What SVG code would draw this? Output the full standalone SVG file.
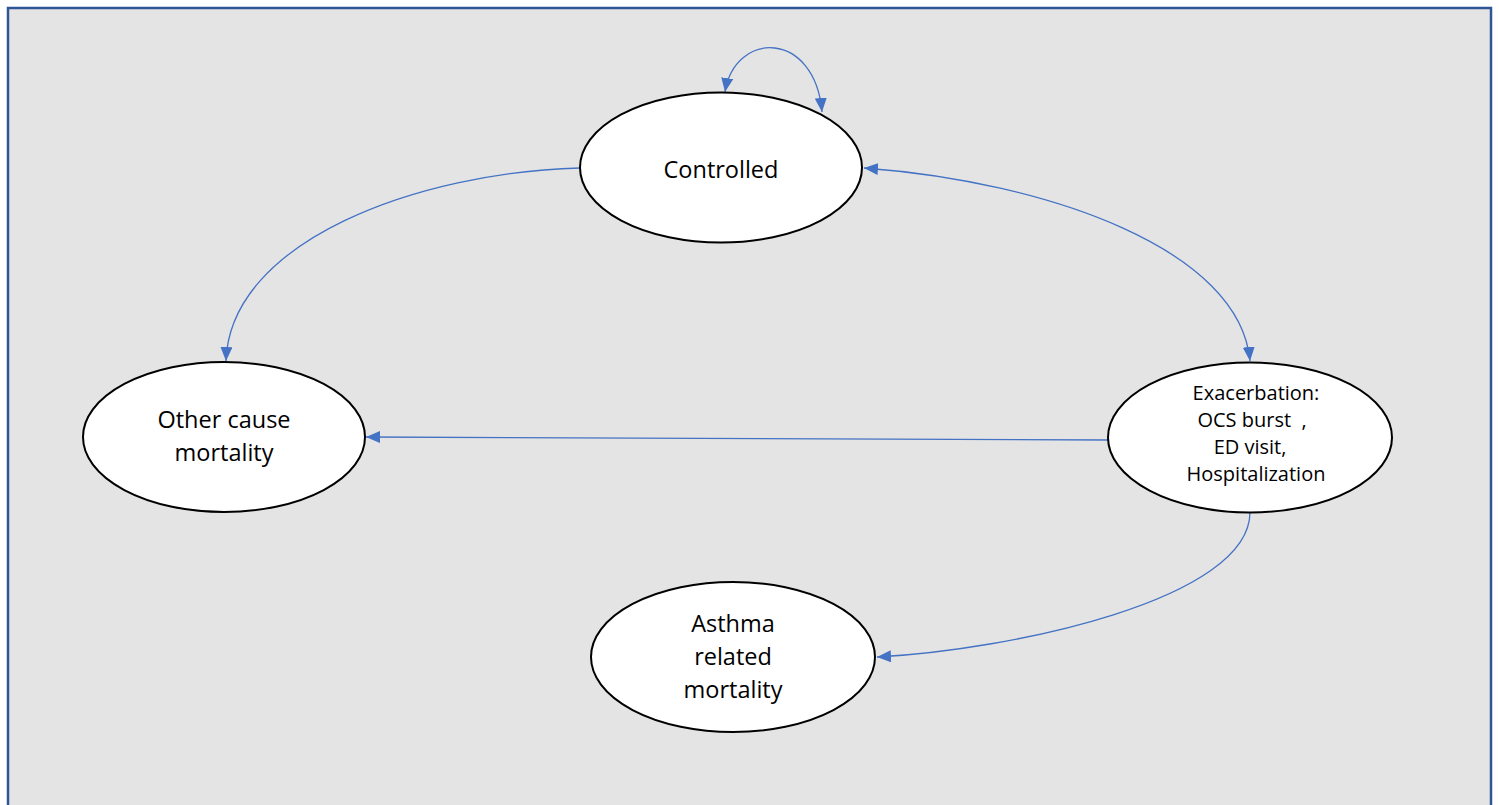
<svg xmlns="http://www.w3.org/2000/svg" width="1499" height="805" viewBox="0 0 1499 805">
<style>
.node ellipse{fill:#fff;stroke:#000;stroke-width:2}
.node text{font-family:"Open Sans","Liberation Sans",sans-serif;font-size:23.5px;fill:#000;text-anchor:middle}
.node text.sm{font-size:20px}
.edge{fill:none;stroke:#4472C4;stroke-width:1.3}
</style>
<defs>
<marker id="ah" viewBox="0 0 14 12" refX="14" refY="6" markerWidth="14" markerHeight="12" markerUnits="userSpaceOnUse" orient="auto-start-reverse">
<path d="M0,0 L14,6 L0,12 z" fill="#4472C4"/>
</marker>
</defs>
<rect x="0" y="0" width="1499" height="805" fill="#fff"/>
<rect x="8" y="8" width="1483" height="810" fill="#E4E4E4" stroke="#2F5597" stroke-width="2.5"/>
<g id="connectors">
<path class="edge" d="M725 92 C735 30,815 30,822 112" marker-start="url(#ah)" marker-end="url(#ah)"/>
<path class="edge" d="M580 168 C420 172,230 240,226 361" marker-end="url(#ah)"/>
<path class="edge" d="M864 168 C1050 182,1240 250,1250 361" marker-start="url(#ah)" marker-end="url(#ah)"/>
<path class="edge" d="M1108 440 L366 437" marker-end="url(#ah)"/>
<path class="edge" d="M1250 512 C1250 600,1010 650,877 657" marker-end="url(#ah)"/>
</g>
<g id="controlled" class="node">
<ellipse cx="721" cy="167.5" rx="141" ry="75"/>
<text x="721" y="178">Controlled</text>
</g>
<g id="other-cause" class="node">
<ellipse cx="224" cy="437" rx="141" ry="75"/>
<text x="224" y="428">Other cause</text>
<text x="224" y="461">mortality</text>
</g>
<g id="exacerbation" class="node">
<ellipse cx="1250" cy="437.5" rx="142" ry="75"/>
<text class="sm" x="1256" y="400">Exacerbation:</text>
<text class="sm" x="1252" y="427">OCS burst&#160; ,</text>
<text class="sm" x="1250" y="454">ED visit,</text>
<text class="sm" x="1256" y="481">Hospitalization</text>
</g>
<g id="asthma" class="node">
<ellipse cx="733" cy="657" rx="142" ry="75"/>
<text x="733" y="632">Asthma</text>
<text x="733" y="665">related</text>
<text x="733" y="698">mortality</text>
</g>
</svg>
